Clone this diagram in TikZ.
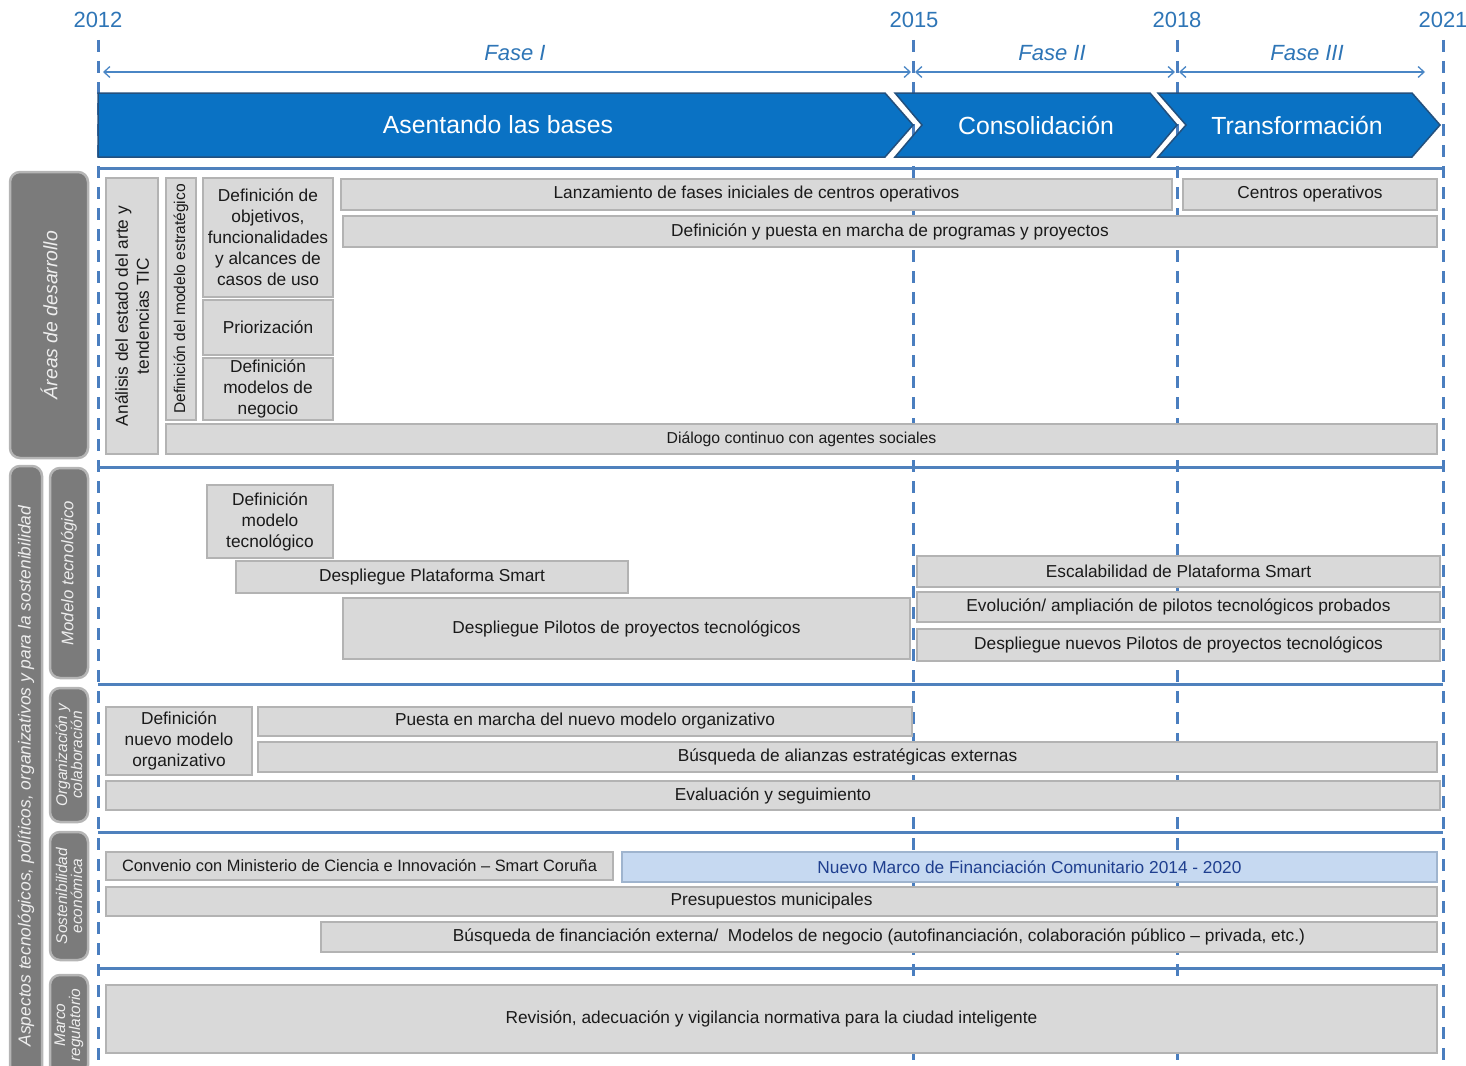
\documentclass[tikz,border=0pt]{standalone}
\usepackage{fontspec}
\setmainfont{Liberation Sans}
\usetikzlibrary{arrows.meta}
\definecolor{dashblue}{HTML}{4A7EBF}
\definecolor{sepblue}{HTML}{4F81BD}
\definecolor{yearblue}{HTML}{2E75B6}
\definecolor{arrowblue}{HTML}{4A86C5}
\definecolor{chevfill}{HTML}{0A72C4}
\definecolor{chevdraw}{HTML}{23507E}
\definecolor{boxfill}{HTML}{D9D9D9}
\definecolor{boxdraw}{HTML}{B3B3B3}
\definecolor{boxtext}{HTML}{1A1A1A}
\definecolor{sidefill}{HTML}{7B7B7B}
\definecolor{sidedraw}{HTML}{B5B5B5}
\definecolor{sidetext}{HTML}{EDEDED}
\definecolor{lbfill}{HTML}{C6D9F1}
\definecolor{lbdraw}{HTML}{9FB4CE}
\definecolor{lbtext}{HTML}{1F3F8F}
\tikzset{
  gbox/.style={draw=boxdraw, fill=boxfill, line width=1.2pt, inner sep=1pt, align=center,
    font=\fontsize{17.3}{21}\selectfont, text=boxtext},
  sidebox/.style={draw=sidedraw, fill=sidefill, line width=2.5pt, rounded corners=10pt,
    inner sep=1pt, align=center, font=\fontsize{16.8}{18}\selectfont\itshape, text=sidetext, rotate=90},
  yeardash/.style={draw=dashblue, line width=3pt, dash pattern=on 12pt off 9pt},
  sepline/.style={draw=sepblue, line width=3pt},
  phasearrow/.style={draw=arrowblue, line width=1.3pt, {Straight Barb[length=6pt,width=11pt]}-{Straight Barb[length=6pt,width=11pt]}},
  yearlbl/.style={text=yearblue, font=\fontsize{22}{24}\selectfont},
  faselbl/.style={text=yearblue, font=\fontsize{22}{24}\selectfont\itshape},
  chevron/.style={fill=chevfill, draw=chevdraw, line width=1.5pt, line join=miter},
  chevtext/.style={text=white, font=\fontsize{24.8}{28}\selectfont},
}
\begin{document}
\begin{tikzpicture}[x=1pt,y=-1pt]
\useasboundingbox (0,0) rectangle (1466,1065);
\clip (0,0) rectangle (1466,1065);

% year labels
\node[yearlbl] (y2012) at (98,20) {2012};
\node[yearlbl] (y2015) at (914,20) {2015};
\node[yearlbl] (y2018) at (1177,20) {2018};
\node[yearlbl] (y2021) at (1443,20) {2021};

% vertical dashed year lines
\coordinate (d1t) at (98,40);   \coordinate (d1b) at (98,1062);
\coordinate (d2t) at (913,40);  \coordinate (d2b) at (913,1062);
\coordinate (d3t) at (1177,40); \coordinate (d3b) at (1177,1062);
\coordinate (d4t) at (1443,40); \coordinate (d4b) at (1443,1062);
\draw[yeardash] (d1t) -- (d1b);
\draw[yeardash] (d2t) -- (d2b);
\draw[yeardash] (d3t) -- (d3b);
\draw[yeardash] (d4t) -- (d4b);

% phase arrows
\coordinate (f1s) at (103,72); \coordinate (f1e) at (911,72);
\coordinate (f2s) at (915,72); \coordinate (f2e) at (1175,72);
\coordinate (f3s) at (1179,72); \coordinate (f3e) at (1425,72);
\draw[phasearrow] (f1s) -- (f1e);
\draw[phasearrow] (f2s) -- (f2e);
\draw[phasearrow] (f3s) -- (f3e);
\node[faselbl] (fase1) at (515,53) {Fase I};
\node[faselbl] (fase2) at (1052,53) {Fase II};
\node[faselbl] (fase3) at (1307,53) {Fase III};

% chevrons
\draw[chevron] (98,93) -- (885,93) -- (913,125) -- (885,157) -- (98,157) -- cycle;
\draw[chevron] (895,93) -- (1150,93) -- (1177,125) -- (1150,157) -- (895,157) -- (922,125) -- cycle;
\draw[chevron] (1158,93) -- (1412,93) -- (1440,125) -- (1412,157) -- (1158,157) -- (1186,125) -- cycle;
\node[chevtext] (chev1) at (498,125) {Asentando las bases};
\node[chevtext] (chev2) at (1036,125) {Consolidación};
\node[chevtext] (chev3) at (1297,125) {Transformación};

% section separators
\coordinate (s1l) at (98,168); \coordinate (s1r) at (1443,168);
\coordinate (s2l) at (98,467); \coordinate (s2r) at (1443,467);
\coordinate (s3l) at (98,684); \coordinate (s3r) at (1443,684);
\coordinate (s4l) at (98,832); \coordinate (s4r) at (1443,832);
\coordinate (s5l) at (98,968); \coordinate (s5r) at (1443,968);
\draw[sepline] (s1l) -- (s1r);
\draw[sepline] (s2l) -- (s2r);
\draw[sepline] (s3l) -- (s3r);
\draw[sepline] (s4l) -- (s4r);
\draw[sepline] (s5l) -- (s5r);

% left sidebar
\node[sidebox, minimum width=286, minimum height=78, font=\fontsize{19.4}{21}\selectfont\itshape] (areas) at (49,315) {Áreas de desarrollo};
\node[sidebox, minimum width=620, minimum height=32, font=\fontsize{17.4}{19}\selectfont\itshape] (aspectos) at (26,776) {Aspectos tecnológicos, políticos, organizativos y para la sostenibilidad};
\node[sidebox, minimum width=210, minimum height=38] (modtec) at (69,573) {Modelo tecnológico};
\node[sidebox, minimum width=134, minimum height=38, font=\fontsize{15.5}{15}\selectfont\itshape] (orgcol) at (69,755) {Organización y\\colaboración};
\node[sidebox, minimum width=128, minimum height=38, font=\fontsize{15.5}{15}\selectfont\itshape] (sosteco) at (69,896) {Sostenibilidad\\económica};
\node[sidebox, minimum width=100, minimum height=38, font=\fontsize{15.5}{15}\selectfont\itshape] (marco) at (69,1025) {Marco\\regulatorio};

% section 1
\node[gbox, rotate=90, minimum width=276, minimum height=52] (analisis) at (132,316) {Análisis del estado del arte y\\tendencias TIC};
\node[gbox, rotate=90, minimum width=242, minimum height=30, font=\fontsize{15.6}{17}\selectfont] (estrat) at (181,299) {Definición del modelo estratégico};
\node[gbox, minimum width=130, minimum height=119] (objetivos) at (268,237.5) {Definición de\\objetivos,\\funcionalidades\\y alcances de\\casos de uso};
\node[gbox, minimum width=130, minimum height=55] (prior) at (268,327.5) {Priorización};
\node[gbox, minimum width=130, minimum height=62] (modneg) at (268,389) {Definición\\modelos de\\negocio};
\node[gbox, minimum width=831, minimum height=31] (lanz) at (756.5,194.5) {Lanzamiento de fases iniciales de centros operativos};
\node[gbox, minimum width=254, minimum height=31] (centros) at (1310,194.5) {Centros operativos};
\node[gbox, minimum width=1094, minimum height=31] (programas) at (890,231.5) {Definición y puesta en marcha de programas y proyectos};
\node[gbox, minimum width=1271, minimum height=30, font=\fontsize{15.8}{17}\selectfont] (dialogo) at (801.5,439) {Diálogo continuo con agentes sociales};

% section 2
\node[gbox, minimum width=126, minimum height=73] (defmodtec) at (270,521.5) {Definición\\modelo\\tecnológico};
\node[gbox, minimum width=392, minimum height=32] (despplat) at (432,577) {Despliegue Plataforma Smart};
\node[gbox, minimum width=567, minimum height=61] (desppil) at (626.5,628.5) {Despliegue Pilotos de proyectos tecnológicos};
\node[gbox, minimum width=523, minimum height=31] (escal) at (1178.5,571.5) {Escalabilidad de Plataforma Smart};
\node[gbox, minimum width=523, minimum height=30] (evol) at (1178.5,607) {Evolución/ ampliación de pilotos tecnológicos probados};
\node[gbox, minimum width=523, minimum height=32] (nuevospil) at (1178.5,645) {Despliegue nuevos Pilotos de proyectos tecnológicos};

% section 3
\node[gbox, minimum width=146, minimum height=68] (deforg) at (179,741) {Definición\\nuevo modelo\\organizativo};
\node[gbox, minimum width=654, minimum height=29] (puesta) at (585,721.5) {Puesta en marcha del nuevo modelo organizativo};
\node[gbox, minimum width=1179, minimum height=30] (alianzas) at (847.5,757) {Búsqueda de alianzas estratégicas externas};
\node[gbox, minimum width=1334, minimum height=29] (evalua) at (773,795.5) {Evaluación y seguimiento};

% section 4
\node[gbox, minimum width=507, minimum height=28, font=\fontsize{16.4}{20}\selectfont] (convenio) at (359.5,866) {Convenio con Ministerio de Ciencia e Innovación – Smart Coruña};
\node[gbox, minimum width=815, minimum height=30, fill=lbfill, draw=lbdraw, text=lbtext] (nuevomarco) at (1029.5,867) {Nuevo Marco de Financiación Comunitario 2014 - 2020};
\node[gbox, minimum width=1331, minimum height=29] (presup) at (771.5,901.5) {Presupuestos municipales};
\node[gbox, minimum width=1116, minimum height=30] (busqfin) at (879,937) {Búsqueda de financiación externa/\ \ Modelos de negocio (autofinanciación, colaboración público – privada, etc.)};

% section 5
\node[gbox, minimum width=1331, minimum height=68] (revision) at (771.5,1019) {Revisión, adecuación y vigilancia normativa para la ciudad inteligente};
\end{tikzpicture}
\end{document}
